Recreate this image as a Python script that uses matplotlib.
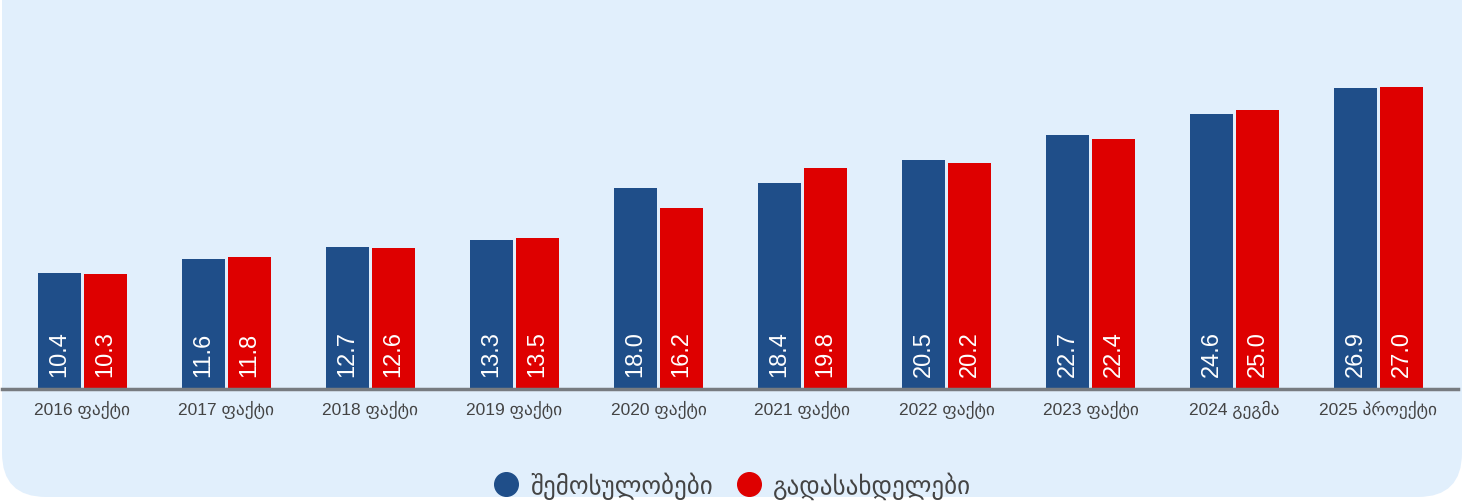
import matplotlib.pyplot as plt
from matplotlib.patches import FancyBboxPatch
import numpy as np

plt.rcParams['font.family'] = ['Liberation Sans', 'DejaVu Sans']

categories = ['2016 ფაქტი', '2017 ფაქტი', '2018 ფაქტი', '2019 ფაქტი', '2020 ფაქტი',
              '2021 ფაქტი', '2022 ფაქტი', '2023 ფაქტი', '2024 გეგმა', '2025 პროექტი']
revenues = [10.4, 11.6, 12.7, 13.3, 18.0, 18.4, 20.5, 22.7, 24.6, 26.9]
expenses = [10.3, 11.8, 12.6, 13.5, 16.2, 19.8, 20.2, 22.4, 25.0, 27.0]
series_names = ['შემოსულობები', 'გადასახდელები']

W, H = 1469, 502
blue = '#1F4E89'
red = '#DE0000'
bg = '#E1EFFC'

fig = plt.figure(figsize=(W / 100, H / 100), dpi=100)
fig.patch.set_facecolor('white')

# rounded background panel (pixel coords -> figure fraction)
panel = FancyBboxPatch((2 / W, (H - 498) / H), 1460 / W, 1.2,
                       boxstyle='round,pad=0,rounding_size=0.03',
                       transform=fig.transFigure, facecolor=bg, edgecolor='none',
                       mutation_aspect=W / H, zorder=-5)
fig.patches.append(panel)

# axes: baseline at pixel 390, x from 2 to 1458
ax = fig.add_axes([2 / W, (H - 390) / H, 1456 / W, 370 / H])
ax.set_facecolor('none')
ax.set_zorder(2)

x = np.arange(len(categories))
bw = 0.30
off = 0.16
b1 = ax.bar(x - off, revenues, bw, color=blue, zorder=2)
b2 = ax.bar(x + off, expenses, bw, color=red, zorder=2)

for bars, vals in ((b1, revenues), (b2, expenses)):
    for rect, v in zip(bars, vals):
        ax.text(rect.get_x() + rect.get_width() / 2, 1.15, f'{v:.1f}',
                rotation=90, ha='center', va='bottom', color='white',
                fontsize=17, zorder=3)

ax.set_xlim((2 - 82.5) / 144, (1458 - 82.5) / 144)
ax.set_ylim(0, 370 / 11.18)
ax.set_xticks(x)
ax.set_xticklabels(categories, fontsize=12.5, color='#444444')
ax.tick_params(axis='x', length=0, pad=8)
ax.set_yticks([])
for s in ['top', 'right', 'left']:
    ax.spines[s].set_visible(False)
ax.spines['bottom'].set_color('#777B80')
ax.spines['bottom'].set_linewidth(2.5)

# legend
handles = [plt.Line2D([], [], marker='o', linestyle='none', markersize=17,
                      markerfacecolor=c, markeredgecolor=c) for c in (blue, red)]
fig.legend(handles, series_names, loc='center', bbox_to_anchor=(731 / W, (H - 486) / H),
           ncol=2, frameon=False, fontsize=18, handlelength=1.2, handletextpad=0.35,
           columnspacing=0.85, labelcolor='#444444', borderpad=0, borderaxespad=0)

fig.savefig('out.png', dpi=100, facecolor='white')
